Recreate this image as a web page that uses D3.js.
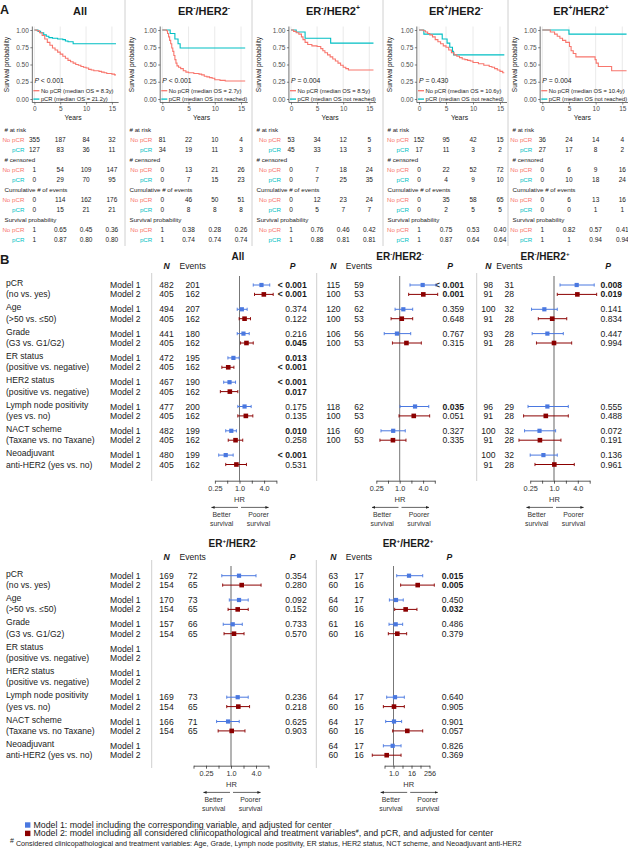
<!DOCTYPE html>
<html><head><meta charset="utf-8">
<script src="https://cdn.jsdelivr.net/npm/d3@7"></script>
<style>
body{margin:0;background:#fff}
svg text{font-family:"Liberation Sans",Arial,sans-serif;fill:#1a1a1a}
</style>
</head><body>
<svg id="c" width="628" height="850"></svg>
<script>
// ================= DATA =================
// Panel A: Kaplan-Meier
const kmGroups = ["All","ER-/HER2-","ER-/HER2+","ER+/HER2-","ER+/HER2+"];
const kmPText = ["P < 0.001","P < 0.001","P = 0.004","P = 0.430","P = 0.004"];
const kmMedianNo = ["8.3y","2.7y","8.5y","10.6y","10.4y"];
const kmMedianPCR = ["21.2y","not reached","not reached","not reached","not reached"];
const kmEnd = [15.8,15.8,15.8,15.8,15.8];
// step points [years, survival]
const kmNoPCR = [
  [[0,1],[0.5,0.99],[1,0.96],[1.5,0.92],[2,0.87],[2.5,0.82],[3,0.78],[3.5,0.74],[4,0.71],[4.5,0.68],[5,0.65],[5.5,0.62],[6,0.59],[6.5,0.56],[7,0.54],[7.5,0.52],[8,0.50],[8.5,0.49],[9,0.47],[9.5,0.46],[10,0.45],[10.5,0.43],[11,0.42],[11.5,0.41],[12.5,0.40],[13,0.39],[13.5,0.38],[14,0.37],[15,0.36],[15.5,0.35]],
  [[0,1],[0.8,0.99],[1,0.95],[1.2,0.9],[1.4,0.85],[1.6,0.8],[1.8,0.74],[2,0.69],[2.2,0.63],[2.4,0.57],[2.6,0.52],[2.8,0.48],[3.1,0.46],[3.5,0.44],[4,0.41],[4.5,0.39],[5,0.38],[6,0.37],[7,0.36],[7.5,0.35],[8,0.33],[8.5,0.32],[9,0.31],[9.5,0.30],[10,0.28],[11,0.27],[12,0.26]],
  [[0,1],[0.5,0.98],[1,0.96],[1.5,0.94],[2,0.90],[2.3,0.86],[2.7,0.82],[3.2,0.79],[4,0.77],[5,0.76],[5.7,0.73],[6.1,0.70],[6.5,0.67],[7,0.64],[7.5,0.61],[8,0.58],[8.5,0.55],[9,0.52],[9.5,0.49],[10,0.46],[10.5,0.44],[11,0.42]],
  [[0,1],[0.8,0.99],[1.2,0.97],[1.6,0.95],[2,0.93],[2.5,0.90],[3,0.86],[3.5,0.83],[4,0.80],[4.5,0.77],[5,0.75],[5.5,0.71],[6,0.67],[6.5,0.64],[7,0.62],[7.5,0.60],[8,0.58],[8.5,0.57],[9,0.56],[9.5,0.55],[10,0.53],[11,0.51],[12,0.49],[13,0.47],[13.5,0.46],[14,0.44],[14.5,0.42],[15,0.40],[15.5,0.38]],
  [[0,1],[1.5,0.97],[2.3,0.94],[2.8,0.91],[3.3,0.88],[3.8,0.85],[4.4,0.82],[5.1,0.76],[5.4,0.70],[5.8,0.66],[6.3,0.61],[9.9,0.57],[10.1,0.52],[10.5,0.47],[13,0.41]]
];
const kmPCR = [
  [[0,1],[0.7,0.98],[1.2,0.96],[1.8,0.93],[2.3,0.91],[2.8,0.89],[3.5,0.88],[4.5,0.87],[5.5,0.86],[6,0.84],[6.5,0.83],[7.5,0.80]],
  [[0,1],[1.5,0.95],[2.4,0.87],[3,0.80],[3.4,0.74]],
  [[0,1],[1,0.97],[2.7,0.88],[7.6,0.81]],
  [[0,1],[0.9,0.94],[4.3,0.87],[5.2,0.81],[5.7,0.75],[6.2,0.69],[6.4,0.64]],
  [[0,1],[5,0.94]]
];
const tableTimes = [0,5,10,15];
const atRiskNo  = [[355,187,84,32],[81,22,10,4],[53,34,12,5],[152,95,42,15],[36,24,14,4]];
const atRiskPCR = [[127,83,36,11],[34,19,11,3],[45,33,13,3],[17,11,3,2],[27,17,8,2]];
const censNo    = [[1,54,109,147],[0,13,21,26],[0,7,18,24],[0,22,52,72],[0,6,9,16]];
const censPCR   = [[0,29,70,95],[0,7,15,23],[0,7,25,35],[0,4,9,10],[0,10,18,24]];
const eventsNo  = [[0,114,162,176],[0,46,50,51],[0,12,23,24],[0,35,58,65],[0,6,13,16]];
const eventsPCR = [[0,15,21,21],[0,8,8,8],[0,5,7,7],[0,2,5,5],[0,0,1,1]];
const survNo    = [["1","0.65","0.45","0.36"],["1","0.38","0.28","0.26"],["1","0.76","0.46","0.42"],["1","0.75","0.53","0.40"],["1","0.82","0.57","0.41"]];
const survPCR   = [["1","0.87","0.80","0.80"],["1","0.74","0.74","0.74"],["1","0.88","0.81","0.81"],["1","0.87","0.64","0.64"],["1","1","0.94","0.94"]];

// Panel B: forest plots
const varLine1 = ["pCR","Age","Grade","ER status","HER2 status","Lymph node positivity","NACT scheme","Neoadjuvant"];
const varLine2 = ["(no vs. yes)","(>50 vs. \u226450)","(G3 vs. G1/G2)","(positive vs. negative)","(positive vs. negative)","(yes vs. no)","(Taxane vs. no Taxane)","anti-HER2 (yes vs. no)"];
const forestGroups = ["All","ER-/HER2-","ER-/HER2+","ER+/HER2-","ER+/HER2+"];
// rows: [N, Events, HR, CI low, CI high, P]
const model1 = [
  [[482,201,3.45,2.17,5.5,"< 0.001"],[494,207,1.14,0.88,1.54,"0.374"],[441,180,1.25,0.88,1.73,"0.216"],[472,195,0.71,0.52,0.98,"0.013"],[467,190,0.57,0.41,0.80,"< 0.001"],[477,200,1.33,0.91,1.93,"0.175"],[482,199,0.63,0.46,0.84,"0.010"],[480,199,0.46,0.31,0.70,"< 0.001"]],
  [[115,59,3.9,1.84,8.6,"< 0.001"],[120,62,1.24,0.76,2.16,"0.359"],[106,56,0.85,0.40,1.92,"0.767"],null,null,[118,62,2.48,1.02,5.6,"0.035"],[116,60,0.68,0.33,1.39,"0.327"],null],
  [[98,31,3.75,1.42,10.4,"0.008"],[100,32,0.57,0.27,1.21,"0.141"],[93,28,0.68,0.28,1.72,"0.447"],null,null,[96,29,0.68,0.22,2.3,"0.555"],[100,32,0.43,0.18,1.1,"0.072"],[100,32,0.54,0.25,1.21,"0.136"]],
  [[169,72,1.56,0.60,4.0,"0.354"],[170,73,1.56,0.91,2.6,"0.092"],[157,66,1.1,0.65,1.87,"0.733"],null,null,[169,73,1.45,0.79,2.6,"0.236"],[166,71,0.85,0.45,1.58,"0.625"],null],
  [[63,17,10.9,1.64,90,"0.015"],[64,17,1.47,0.53,4.5,"0.450"],[61,16,1.4,0.5,4.1,"0.486"],null,null,[64,17,1.26,0.35,5.3,"0.640"],[64,17,1.08,0.30,3.5,"0.901"],[64,17,0.88,0.21,3.2,"0.826"]]
];
const model2 = [
  [[405,162,3.94,2.33,6.68,"< 0.001"],[405,162,1.33,0.98,1.86,"0.122"],[405,162,1.48,1.06,2.17,"0.045"],[405,162,0.53,0.37,0.73,"< 0.001"],[405,162,0.58,0.34,0.91,"0.017"],[405,162,1.43,0.91,2.12,"0.135"],[405,162,0.80,0.53,1.2,"0.258"],[405,162,0.84,0.46,1.48,"0.531"]],
  [[100,53,4.05,1.7,9.5,"0.001"],[100,53,1.13,0.6,2.16,"0.648"],[100,53,1.49,0.65,3.6,"0.315"],null,null,[100,53,2.3,0.96,5.9,"0.051"],[100,53,0.67,0.31,1.45,"0.335"],null],
  [[91,28,3.9,1.21,12,"0.019"],[91,28,0.9,0.40,2.1,"0.834"],[91,28,1.0,0.36,2.8,"0.994"],null,null,[91,28,0.62,0.17,2.3,"0.488"],[91,28,0.44,0.13,1.5,"0.191"],[91,28,1.02,0.33,3.26,"0.961"]],
  [[154,65,1.81,0.63,5.3,"0.280"],[154,65,1.45,0.85,2.6,"0.152"],[154,65,1.18,0.68,2.06,"0.570"],null,null,[154,65,1.5,0.79,2.8,"0.218"],[154,65,1.04,0.49,2.17,"0.903"],null],
  [[60,16,41.6,3.0,536,"0.005"],[60,16,6.5,1.2,37,"0.032"],[60,16,1.8,0.45,7.6,"0.379"],null,null,[60,16,1.08,0.21,5.3,"0.905"],[60,16,8.4,0.88,90,"0.057"],[60,16,0.35,0.038,3.2,"0.369"]]
];
const axisTicks = [[0.25,0.5,1,2,4,8],[0.25,0.5,1,2,4,8],[0.25,0.5,1,2,4,8],[0.125,0.25,0.5,1,2,4,8],[0.25,1,4,16,64,256]];
const axisLabels = [[0.25,1,4],[0.25,1,4],[0.25,1,4],[0.25,1,4],[1,16,256]];

// ================= DRAW =================
const svg = d3.select("#c");
const salmon = "#F8766D", cyan = "#00BFC4";
const blue = "#4a78e0", dred = "#8b0000";
const DJ = '"DejaVu Sans", sans-serif';

function title(g, label, x, y, fs){
  const t = g.append("text").attr("x",x).attr("y",y).attr("text-anchor","middle")
    .attr("font-weight","bold").attr("font-size",fs).attr("dy","0.35em");
  const m = label.match(/^ER([+-])\/HER2([+-])$/);
  if(!m){ t.text(label); return t; }
  const s = fs*0.62, up = fs*0.42;
  t.append("tspan").text("ER");
  t.append("tspan").attr("font-size",s).attr("dy",-up).text(m[1]);
  t.append("tspan").attr("dy",up).text("/HER2");
  t.append("tspan").attr("font-size",s).attr("dy",-up).text(m[2]);
  return t;
}
function txt(g, s, x, y, fs, anchor, opts){
  const t = g.append("text").attr("x",x).attr("y",y).attr("dy","0.35em")
    .attr("font-size",fs).attr("text-anchor",anchor||"start").text(s);
  if(opts){ for(const k in opts) t.attr(k, opts[k]); }
  return t;
}

// Panel labels
txt(svg,"A",0,10,12.5,"start",{"font-weight":"bold"});
txt(svg,"B",0,259,13,"start",{"font-weight":"bold"});

// ---- Panel A ----
const kmDiv = [0,125,252,383,508];
const kmX0 = [34.4,162.3,291,419,542.3];
const kmW15 = [77.5,78.7,78.3,81,80];
const kmTitleX = [80,204,333,456,581];
const TFS = 6.2;
kmDiv.slice(1).forEach(d=>{
  svg.append("line").attr("x1",d).attr("x2",d).attr("y1",0).attr("y2",246).attr("stroke","#d0d0d0").attr("stroke-width",1);
});
kmGroups.forEach((grp,i)=>{
  const g = svg.append("g");
  const x = d3.scaleLinear().domain([0,15]).range([kmX0[i], kmX0[i]+kmW15[i]]);
  const y = d3.scaleLinear().domain([0,1]).range([99,30]);
  const left = x(-0.4), right = x(16.3), top = 26.5, bot = 102.5;
  title(g, grp, kmTitleX[i], 11, 11);
  g.selectAll(null).data([0,5,10,15]).join("line")
    .attr("x1",d=>x(d)).attr("x2",d=>x(d)).attr("y1",top).attr("y2",bot)
    .attr("stroke","#e4e4e4").attr("stroke-width",0.8);
  const ay = g.append("g").attr("transform",`translate(${left},0)`)
    .call(d3.axisLeft(y).tickValues([0,0.25,0.5,0.75,1]).tickFormat(d3.format(".2f")).tickSize(2).tickPadding(1.5));
  ay.select(".domain").remove();
  ay.selectAll("text").attr("font-size",6.5).style("fill","#4d4d4d");
  ay.selectAll("line").attr("stroke","#333").attr("stroke-width",0.6);
  const ax = g.append("g").attr("transform",`translate(0,${bot})`)
    .call(d3.axisBottom(x).tickValues([0,5,10,15]).tickFormat(d3.format("d")).tickSize(2).tickPadding(1.5));
  ax.select(".domain").remove();
  ax.selectAll("text").attr("font-size",6.5).style("fill","#4d4d4d");
  ax.selectAll("line").attr("stroke","#333").attr("stroke-width",0.6);
  g.append("line").attr("x1",left).attr("x2",left).attr("y1",top).attr("y2",bot).attr("stroke","#333").attr("stroke-width",0.7);
  g.append("line").attr("x1",left).attr("x2",right).attr("y1",bot).attr("y2",bot).attr("stroke","#333").attr("stroke-width",0.7);
  // axis titles
  txt(g,"Survival probability",0,0,6.6,"middle").attr("transform",`translate(${kmDiv[i]+6.5},${(top+bot)/2}) rotate(-90)`);
  txt(g,"Years",x(7.5),118,6.8,"middle");
  // curves
  const line = d3.line().x(d=>x(d[0])).y(d=>y(d[1])).curve(d3.curveStepAfter);
  const no = kmNoPCR[i].concat([[kmEnd[i], kmNoPCR[i][kmNoPCR[i].length-1][1]]]);
  const pc = kmPCR[i].concat([[kmEnd[i], kmPCR[i][kmPCR[i].length-1][1]]]);
  g.append("path").attr("d",line(pc)).attr("fill","none").attr("stroke",cyan).attr("stroke-width",1.1);
  g.append("path").attr("d",line(no)).attr("fill","none").attr("stroke",salmon).attr("stroke-width",1.1);
  // P and legend
  const pt = g.append("text").attr("x",x(0)).attr("y",81).attr("dy","0.35em").attr("font-size",6.8);
  pt.append("tspan").attr("font-style","italic").text("P");
  pt.append("tspan").text(kmPText[i].slice(1));
  const lg = [[salmon,"No pCR (median OS = "+kmMedianNo[i]+")"],[cyan,"pCR (median OS "+(kmMedianPCR[i]==="not reached"?"not reached)":"= "+kmMedianPCR[i]+")")]];
  lg.forEach((l,j)=>{
    const yy = 90.7 + j*8.4;
    g.append("line").attr("x1",x(0)-1).attr("x2",x(0)+5).attr("y1",yy).attr("y2",yy).attr("stroke",l[0]).attr("stroke-width",1.3);
    txt(g,l[1],x(0)+6.5,yy,5.8,"start");
  });
  // table
  const rows = [
    ["h","# at risk"],["n",atRiskNo[i]],["p",atRiskPCR[i]],
    ["h","# censored"],["n",censNo[i]],["p",censPCR[i]],
    ["h","Cumulative # of events"],["n",eventsNo[i]],["p",eventsPCR[i]],
    ["h","Survival probability"],["n",survNo[i]],["p",survPCR[i]]
  ];
  rows.forEach((r,k)=>{
    const yy = 130 + k*9.95;
    if(r[0]==="h"){ txt(g,r[1],kmDiv[i]+4.5,yy,TFS,"start"); return; }
    txt(g, r[0]==="n"?"No pCR":"pCR", x(0)-10, yy, TFS, "end", {style:"fill:"+(r[0]==="n"?salmon:cyan)});
    r[1].forEach((v,c)=>txt(g,String(v),x(tableTimes[c]),yy,TFS+0.3,"middle"));
  });
});

// ---- Panel B ----
const rowsLayout = [
  {titleY:256.7, headY:266, y0:285, axisY:480.7, refTop:276, divs:[151.7,316.7,476.7], divTop:273, divBot:481},
  {titleY:543.3, headY:556.7, y0:575.7, axisY:765.7, refTop:566, divs:[151.7,316.3], divTop:560, divBot:768}
];
const forestLayout = [
  {row:0, nX:166.5, evX:192.7, pRight:306.7, titleX:238, ref:239.5, ppu:12.3, split:239.5, refW:1, refC:"#777"},
  {row:0, nX:333.3, evX:359, pRight:464, titleX:400, ref:399.7, ppu:11.7, split:400, refW:1, refC:"#777"},
  {row:0, nX:488.3, evX:509.3, pRight:622, titleX:545, ref:554, ppu:11.9, split:554.5, refW:1.8, refC:"#aaa"},
  {row:1, nX:166.5, evX:192.7, pRight:306.7, titleX:233, ref:231, ppu:12.5, split:231.5, refW:2, refC:"#b3b3b3"},
  {row:1, nX:333.3, evX:359, pRight:463.3, titleX:408, ref:393.5, ppu:4.5, split:408.7, refW:1, refC:"#777"}
];
const FS = 8.6, STEP = 24.3, M2OFF = 9.4;

rowsLayout.forEach(R=>{
  R.divs.forEach(d=>svg.append("line").attr("x1",d).attr("x2",d).attr("y1",R.divTop).attr("y2",R.divBot).attr("stroke","#cfcfcf").attr("stroke-width",1));
  varLine1.forEach((v,k)=>{
    const y1 = R.y0 + k*STEP, y2 = y1 + M2OFF;
    txt(svg,v,6,y1-2,FS,"start");
    txt(svg,varLine2[k],6,y2,FS,"start");
    txt(svg,"Model 1",110,y1,FS,"start");
    txt(svg,"Model 2",110,y2,FS,"start");
  });
});

svg.append("defs").html(
  '<marker id="ah" viewBox="0 0 10 10" refX="9" refY="5" markerWidth="5" markerHeight="5" orient="auto-start-reverse"><path d="M0,1L10,5L0,9z" fill="#222"/></marker>');

forestLayout.forEach((L,gi)=>{
  const R = rowsLayout[L.row];
  const g = svg.append("g");
  const ticks = axisTicks[gi];
  const lo = ticks[0], hi = ticks[ticks.length-1];
  const x = d3.scaleLog().base(2).domain([lo,hi])
    .range([L.ref + Math.log2(lo)*L.ppu, L.ref + Math.log2(hi)*L.ppu]);
  title(g, forestGroups[gi], L.titleX, R.titleY, 10);
  txt(g,"N",L.nX,R.headY,FS,"middle",{"font-weight":"bold","font-style":"italic"});
  txt(g,"Events",L.evX,R.headY,FS,"middle");
  txt(g,"P",L.pRight-14,R.headY,FS,"middle",{"font-weight":"bold","font-style":"italic"});
  // reference line
  g.append("line").attr("x1",x(1)).attr("x2",x(1)).attr("y1",R.refTop).attr("y2",R.axisY)
    .attr("stroke",L.refC).attr("stroke-width",L.refW);
  // axis
  const ax = g.append("g").attr("transform",`translate(0,${R.axisY})`)
    .call(d3.axisBottom(x).tickValues(ticks)
      .tickFormat(d=>axisLabels[gi].includes(d) ? (d<1 ? String(d) : (d<10 ? d.toFixed(1) : String(d))) : "")
      .tickSize(3).tickSizeOuter(0).tickPadding(2.5));
  ax.select(".domain").attr("stroke","#333").attr("stroke-width",0.8);
  ax.selectAll("line").attr("stroke","#333").attr("stroke-width",0.8);
  ax.selectAll("text").attr("font-size",7.3).attr("font-family",DJ).style("fill","#333");
  txt(g,"HR",L.split,R.axisY+18.3,7.5,"middle",{"font-family":DJ,style:"fill:#333"});
  const ay = R.axisY + 26.7;
  g.append("line").attr("x1",L.split-1.5).attr("x2",L.split-28).attr("y1",ay).attr("y2",ay)
    .attr("stroke","#222").attr("stroke-width",0.7).attr("marker-end","url(#ah)");
  g.append("line").attr("x1",L.split+1.5).attr("x2",L.split+29).attr("y1",ay).attr("y2",ay)
    .attr("stroke","#222").attr("stroke-width",0.7).attr("marker-end","url(#ah)");
  txt(g,"Better",L.split-17.8,R.axisY+34.3,6.9,"middle",{"font-family":DJ,style:"fill:#333"});
  txt(g,"survival",L.split-17.8,R.axisY+43.3,6.9,"middle",{"font-family":DJ,style:"fill:#333"});
  txt(g,"Poorer",L.split+19,R.axisY+34.3,6.9,"middle",{"font-family":DJ,style:"fill:#333"});
  txt(g,"survival",L.split+19,R.axisY+43.3,6.9,"middle",{"font-family":DJ,style:"fill:#333"});
  // rows
  [model1[gi], model2[gi]].forEach((arr,m)=>{
    const col = m===0 ? blue : dred;
    arr.forEach((r,k)=>{
      if(!r) return;
      const yy = R.y0 + k*STEP + m*M2OFF;
      txt(g,String(r[0]),L.nX,yy,FS,"middle");
      txt(g,String(r[1]),L.evX,yy,FS,"middle");
      const pnum = r[5].startsWith("<") ? 0 : parseFloat(r[5]);
      txt(g,r[5],L.pRight,yy,FS,"end",pnum<0.05?{"font-weight":"bold"}:null);
      g.append("line").attr("x1",x(r[3])).attr("x2",x(r[4])).attr("y1",yy).attr("y2",yy).attr("stroke",col).attr("stroke-width",1);
      [r[3],r[4]].forEach(v=>g.append("line").attr("x1",x(v)).attr("x2",x(v)).attr("y1",yy-1.6).attr("y2",yy+1.6).attr("stroke",col).attr("stroke-width",0.9));
      const s = m===0 ? 4.2 : 4.6;
      g.append("rect").attr("x",x(r[2])-s/2).attr("y",yy-s/2).attr("width",s).attr("height",s).attr("fill",col);
    });
  });
});

// ---- Legend ----
const legendItems = [[blue,"Model 1: model including the corresponding variable, and adjusted for center"],
                     [dred,"Model 2: model including all considered clinicopathological and treatment variables"]];
legendItems.forEach((l,j)=>{
  const yy = 825 + j*8.4;
  svg.append("rect").attr("x",25).attr("y",yy-2.7).attr("width",5.4).attr("height",5.4).attr("fill",l[0]);
  const t = txt(svg,l[1],33.5,yy,8.8,"start");
  if(j===1){
    t.append("tspan").attr("font-size",5.2).attr("dy",-3).text("#");
    t.append("tspan").attr("dy",3).text(", and pCR, and adjusted for center");
  }
});
const ft = svg.append("text").attr("x",10).attr("y",845.7).attr("dy","0.35em").attr("font-size",7.2);
ft.append("tspan").attr("font-size",7).attr("dy",-2.6).text("#");
ft.append("tspan").attr("dx",2).attr("dy",2.6).text("Considered clinicopathological and treatment variables: Age, Grade, Lymph node positivity, ER status, HER2 status, NCT scheme, and Neoadjuvant anti-HER2");
</script>
</body></html>
